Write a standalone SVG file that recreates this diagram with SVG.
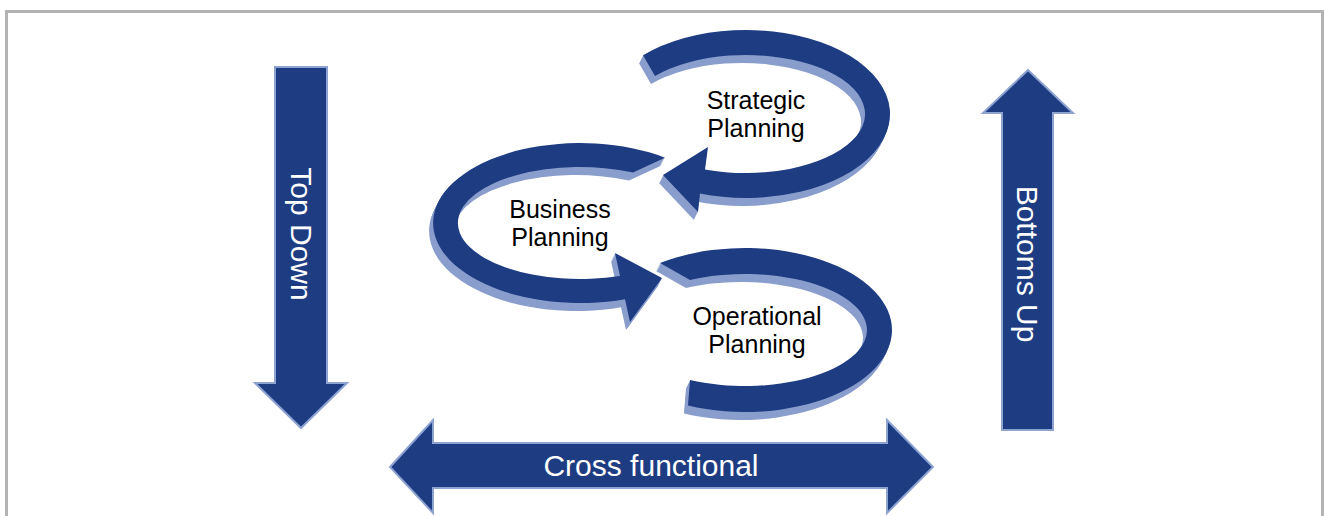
<svg xmlns="http://www.w3.org/2000/svg" xmlns:xlink="http://www.w3.org/1999/xlink" width="1325" height="516" viewBox="0 0 1325 516">
<style>
  .frame{fill:none;stroke:#b3b3b3;stroke-width:3}
  .front{fill:#1e3c82}
  .side{fill:#8a9ecd}
  .bar{fill:#1e3c82;stroke:#8ea3d1;stroke-width:2;stroke-linejoin:miter}
  .lbl{font-family:"Liberation Sans",Arial,sans-serif;font-size:25px;fill:#000;text-anchor:middle}
  .wlbl{font-family:"Liberation Sans",Arial,sans-serif;font-size:30px;fill:#fff;text-anchor:middle}
</style>
<defs>
  <path id="loopS" d="M643,55.3 A144,84 0 1 1 700,193.6 L698,212 L663,175 L708,147 L705,169.4 A119,59 0 1 0 655,76 Z"/>
  <path id="loopB" d="M665,157.7 A147,80 0 1 0 625,299.2 L630,322 L662,278 L615,253 L620,275.9 A122,56 0 1 1 633,172.6 Z"/>
  <path id="loopO" d="M660,263.1 A147,82 0 1 1 688,405.6 L690,380 A122,56 0 1 0 690,280 Z"/>
  <g id="extS" class="side">
    <use xlink:href="#loopS" transform="translate(-4,8)"/><use xlink:href="#loopS" transform="translate(-3.5,7)"/><use xlink:href="#loopS" transform="translate(-3,6)"/><use xlink:href="#loopS" transform="translate(-2.5,5)"/><use xlink:href="#loopS" transform="translate(-2,4)"/><use xlink:href="#loopS" transform="translate(-1.5,3)"/><use xlink:href="#loopS" transform="translate(-1,2)"/><use xlink:href="#loopS" transform="translate(-0.5,1)"/>
  </g>
  <g id="extB" class="side">
    <use xlink:href="#loopB" transform="translate(-4,8)"/><use xlink:href="#loopB" transform="translate(-3.5,7)"/><use xlink:href="#loopB" transform="translate(-3,6)"/><use xlink:href="#loopB" transform="translate(-2.5,5)"/><use xlink:href="#loopB" transform="translate(-2,4)"/><use xlink:href="#loopB" transform="translate(-1.5,3)"/><use xlink:href="#loopB" transform="translate(-1,2)"/><use xlink:href="#loopB" transform="translate(-0.5,1)"/>
  </g>
  <g id="extO" class="side">
    <use xlink:href="#loopO" transform="translate(-4,8)"/><use xlink:href="#loopO" transform="translate(-3.5,7)"/><use xlink:href="#loopO" transform="translate(-3,6)"/><use xlink:href="#loopO" transform="translate(-2.5,5)"/><use xlink:href="#loopO" transform="translate(-2,4)"/><use xlink:href="#loopO" transform="translate(-1.5,3)"/><use xlink:href="#loopO" transform="translate(-1,2)"/><use xlink:href="#loopO" transform="translate(-0.5,1)"/>
  </g>
</defs>
<rect width="1325" height="516" fill="#fff"/>
<rect class="frame" x="6.5" y="11.5" width="1316" height="600"/>

<g id="connectors">
  <g id="loop-strategic"><use xlink:href="#extS"/><use xlink:href="#loopS" class="front"/></g>
  <g id="loop-business"><use xlink:href="#extB"/><use xlink:href="#loopB" class="front"/></g>
  <g id="loop-operational"><use xlink:href="#extO"/><use xlink:href="#loopO" class="front"/></g>
</g>

<g id="strategic-planning">
  <text class="lbl" x="756" y="109">Strategic</text>
  <text class="lbl" x="756" y="137">Planning</text>
</g>
<g id="business-planning">
  <text class="lbl" x="560" y="218">Business</text>
  <text class="lbl" x="560" y="246">Planning</text>
</g>
<g id="operational-planning">
  <text class="lbl" x="757" y="325">Operational</text>
  <text class="lbl" x="757" y="353">Planning</text>
</g>

<g id="top-down">
  <polygon class="bar" points="275,67 327,67 327,383 347,383 301,428 255,383 275,383"/>
  <text class="wlbl" transform="translate(290.5,234) rotate(90)">Top Down</text>
</g>
<g id="bottoms-up">
  <polygon class="bar" points="1028,70 1073,113 1053,113 1053,430 1002,430 1002,113 983,113"/>
  <text class="wlbl" transform="translate(1017,264) rotate(90)">Bottoms Up</text>
</g>
<g id="cross-functional">
  <polygon class="bar" points="390,467 433,420 433,443 887,443 887,420 933,467 887,513 887,488 433,488 433,513"/>
  <text class="wlbl" x="651" y="476">Cross functional</text>
</g>
</svg>
